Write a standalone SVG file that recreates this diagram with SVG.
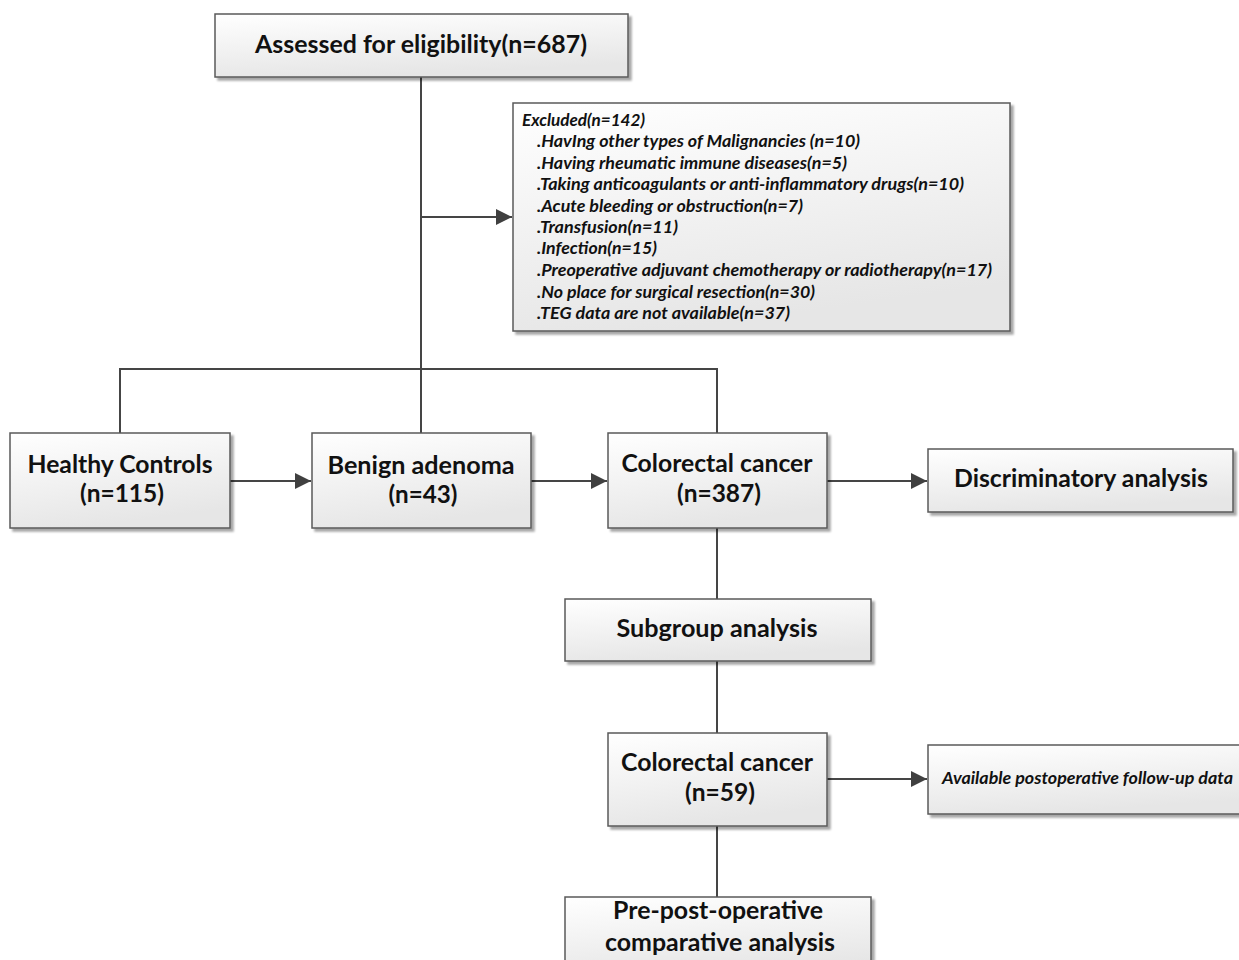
<svg xmlns="http://www.w3.org/2000/svg" width="1239" height="960" viewBox="0 0 1239 960">
<defs>
<linearGradient id="g" x1="0" y1="0" x2="0.3" y2="1">
<stop offset="0" stop-color="#ffffff"/>
<stop offset="1" stop-color="#e6e6e6"/>
</linearGradient>
<filter id="sh" x="-5%" y="-5%" width="115%" height="125%">
<feGaussianBlur in="SourceAlpha" stdDeviation="1.2"/>
<feOffset dx="2.5" dy="2.5" result="b"/>
<feComponentTransfer><feFuncA type="linear" slope="0.35"/></feComponentTransfer>
<feMerge><feMergeNode/><feMergeNode in="SourceGraphic"/></feMerge>
</filter>
<marker id="ar" viewBox="0 0 10 10" refX="10" refY="5" markerWidth="16" markerHeight="16" markerUnits="userSpaceOnUse" orient="auto">
<path d="M0,0 L10,5 L0,10 z" fill="#404040"/>
</marker>
</defs>
<style>
.box{fill:url(#g);stroke:#5a5a5a;stroke-width:1.5;filter:url(#sh)}
.t{font-family:Lato,"Open Sans",sans-serif;font-weight:bold;fill:#111;text-anchor:middle;font-size:24.5px}
.i{font-family:Lato,"Open Sans",sans-serif;font-weight:bold;font-style:italic;fill:#111;font-size:17px}
.c{fill:none;stroke:#454545;stroke-width:2}
</style>
<rect width="1239" height="960" fill="#ffffff"/>
<g id="connectors">
<path class="c" d="M421,77 V433"/>
<path class="c" d="M421,217 H512" marker-end="url(#ar)"/>
<path class="c" d="M120,433 V369 H717 V433"/>
<path class="c" d="M230,481 H311" marker-end="url(#ar)"/>
<path class="c" d="M531,481 H607" marker-end="url(#ar)"/>
<path class="c" d="M827,481 H927" marker-end="url(#ar)"/>
<path class="c" d="M717,528 V599"/>
<path class="c" d="M717,661 V733"/>
<path class="c" d="M827,779 H927" marker-end="url(#ar)"/>
<path class="c" d="M717,826 V897"/>
</g>
<g id="assessed">
<rect class="box" x="215" y="14" width="413" height="63"/>
<text class="t" x="421" y="53" font-size="25.5" textLength="332" lengthAdjust="spacingAndGlyphs">Assessed for eligibility(n=687)</text>
</g>
<g id="excluded" lengthAdjust="spacingAndGlyphs">
<rect class="box" x="513" y="103" width="497" height="228"/>
<text class="i" x="522" y="125.5" textLength="123" lengthAdjust="spacingAndGlyphs">Excluded(n=142)</text>
<text class="i" x="537" y="147" textLength="323" lengthAdjust="spacingAndGlyphs">.HavIng other types of Malignancies (n=10)</text>
<text class="i" x="537" y="168.5" textLength="310" lengthAdjust="spacingAndGlyphs">.Having rheumatic immune diseases(n=5)</text>
<text class="i" x="537" y="190" textLength="427" lengthAdjust="spacingAndGlyphs">.Taking anticoagulants or anti-inflammatory drugs(n=10)</text>
<text class="i" x="537" y="211.5" textLength="266" lengthAdjust="spacingAndGlyphs">.Acute bleeding or obstruction(n=7)</text>
<text class="i" x="537" y="232.5" textLength="141" lengthAdjust="spacingAndGlyphs">.Transfusion(n=11)</text>
<text class="i" x="537" y="254" textLength="120" lengthAdjust="spacingAndGlyphs">.Infection(n=15)</text>
<text class="i" x="537" y="275.5" textLength="455" lengthAdjust="spacingAndGlyphs">.Preoperative adjuvant chemotherapy or radiotherapy(n=17)</text>
<text class="i" x="537" y="297.5" textLength="278" lengthAdjust="spacingAndGlyphs">.No place for surgical resection(n=30)</text>
<text class="i" x="537" y="318.5" textLength="253" lengthAdjust="spacingAndGlyphs">.TEG data are not available(n=37)</text>
</g>
<g id="healthy">
<rect class="box" x="10" y="433" width="220" height="95"/>
<text class="t" x="120" y="473" textLength="185" lengthAdjust="spacingAndGlyphs">Healthy Controls</text>
<text class="t" x="122" y="502" textLength="84" lengthAdjust="spacingAndGlyphs">(n=115)</text>
</g>
<g id="benign">
<rect class="box" x="312" y="433" width="219" height="95"/>
<text class="t" x="421" y="474" textLength="187" lengthAdjust="spacingAndGlyphs">Benign adenoma</text>
<text class="t" x="423" y="503" textLength="69" lengthAdjust="spacingAndGlyphs">(n=43)</text>
</g>
<g id="crc387">
<rect class="box" x="608" y="433" width="219" height="95"/>
<text class="t" x="717" y="472" textLength="191" lengthAdjust="spacingAndGlyphs">Colorectal cancer</text>
<text class="t" x="719" y="502" textLength="84" lengthAdjust="spacingAndGlyphs">(n=387)</text>
</g>
<g id="discriminatory">
<rect class="box" x="928" y="449" width="305" height="63"/>
<text class="t" x="1081" y="487" textLength="254" lengthAdjust="spacingAndGlyphs">Discriminatory analysis</text>
</g>
<g id="subgroup">
<rect class="box" x="565" y="599" width="306" height="62"/>
<text class="t" x="717" y="637" textLength="201" lengthAdjust="spacingAndGlyphs">Subgroup analysis</text>
</g>
<g id="crc59">
<rect class="box" x="608" y="733" width="219" height="93"/>
<text class="t" x="717" y="771" textLength="192" lengthAdjust="spacingAndGlyphs">Colorectal cancer</text>
<text class="t" x="720" y="801" textLength="70" lengthAdjust="spacingAndGlyphs">(n=59)</text>
</g>
<g id="followup">
<rect class="box" x="928" y="745" width="320" height="69"/>
<text class="i" x="942" y="783.5" textLength="291" lengthAdjust="spacingAndGlyphs">Available postoperative follow-up data</text>
</g>
<g id="prepost">
<rect class="box" x="565" y="897" width="306" height="80"/>
<text class="t" x="718" y="918.5" textLength="210" lengthAdjust="spacingAndGlyphs">Pre-post-operative</text>
<text class="t" x="720" y="951" textLength="230" lengthAdjust="spacingAndGlyphs">comparative analysis</text>
</g>
</svg>
